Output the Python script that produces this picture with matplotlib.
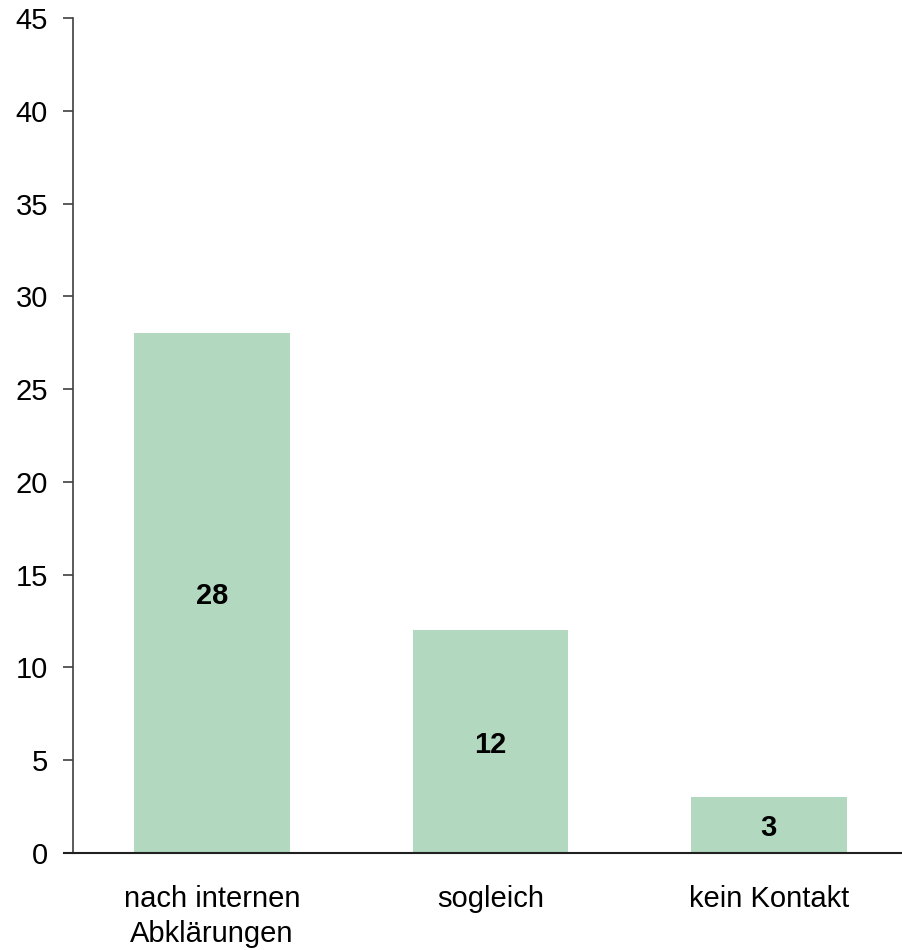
import numpy as np
import matplotlib.pyplot as plt

plt.rcParams['font.family'] = ['Liberation Sans', 'DejaVu Sans']

categories = ["nach internen\nAbklärungen", "sogleich", "kein Kontakt"]
counts = [28, 12, 3]
yticks = [0, 5, 10, 15, 20, 25, 30, 35, 40, 45]

fig = plt.figure(figsize=(9.02, 9.5), dpi=100)
ax = fig.add_axes([73 / 902, 1 - 853 / 950, 835 / 902, 835 / 950])

x = np.arange(len(categories))
bars = ax.bar(x, counts, width=0.56, color='#b2d8bf', zorder=2)

for rect, v in zip(bars, counts):
    ax.text(rect.get_x() + rect.get_width() / 2, v / 2, str(v),
            ha='center', va='center_baseline', fontsize=21, fontweight='bold', color='black')

ax.set_xlim(-0.5, 2.5)
ax.set_ylim(0, 45)
ax.set_yticks(yticks)
ax.set_xticks(x)
ax.set_xticklabels(categories, fontsize=21, linespacing=1.3)
ax.tick_params(axis='x', length=0, pad=23)
ax.tick_params(axis='y', length=7, width=1.2, color='#404040', labelsize=21, pad=11)
for lab in ax.get_yticklabels():
    lab.set_verticalalignment('center_baseline')

for s in ['top', 'right']:
    ax.spines[s].set_visible(False)
ax.spines['left'].set_color('#404040')
ax.spines['left'].set_linewidth(1.2)
ax.spines['bottom'].set_color('#202020')
ax.spines['bottom'].set_linewidth(1.5)
ax.spines['bottom'].set_zorder(3)

# extend the baseline a bit past the y axis like the tick marks
ax.plot([-0.5 - 9 / 278.5, -0.5], [0, 0], color='#202020', lw=1.5, clip_on=False, zorder=3)

fig.savefig("out.png", dpi=100)
